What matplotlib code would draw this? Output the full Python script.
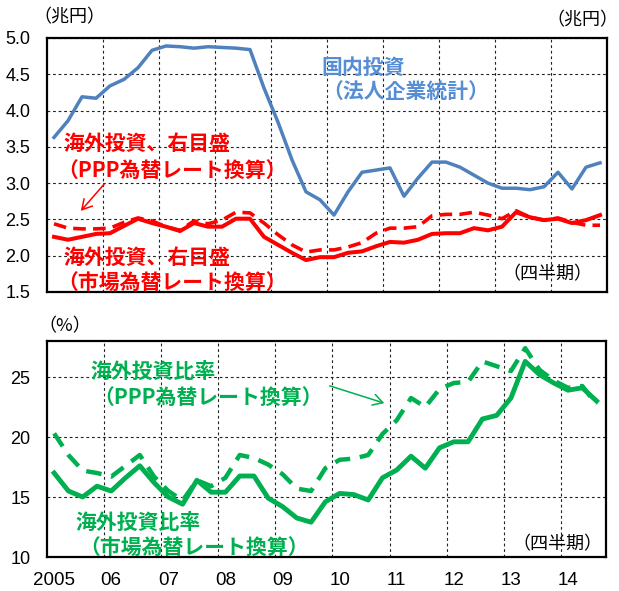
import matplotlib
matplotlib.use('Agg')
import matplotlib.pyplot as plt
import numpy as np

W, H = 619, 591

# ---- data (quarterly, 2005Q1 onward) ----
domestic = [3.63, 3.86, 4.19, 4.17, 4.34, 4.43, 4.59, 4.83, 4.89, 4.88,
            4.86, 4.88, 4.87, 4.86, 4.84, 4.31, 3.84, 3.32, 2.88, 2.77,
            2.56, 2.88, 3.15, 3.18, 3.21, 2.82, 3.07, 3.29, 3.29, 3.22,
            3.11, 3.00, 2.93, 2.93, 2.91, 2.95, 3.15, 2.92, 3.22, 3.28]
overseas_mkt = [2.26, 2.22, 2.26, 2.30, 2.31, 2.41, 2.51, 2.45, 2.40, 2.34,
                2.45, 2.40, 2.40, 2.51, 2.51, 2.26, 2.15, 2.04, 1.94, 1.98,
                1.98, 2.04, 2.06, 2.13, 2.19, 2.18, 2.22, 2.30, 2.31, 2.31,
                2.38, 2.35, 2.40, 2.60, 2.53, 2.49, 2.51, 2.45, 2.49, 2.56]
overseas_ppp = [2.44, 2.38, 2.37, 2.37, 2.38, 2.46, 2.52, 2.48, 2.40, 2.35,
                2.48, 2.44, 2.49, 2.60, 2.59, 2.45, 2.29, 2.15, 2.05, 2.08,
                2.08, 2.12, 2.18, 2.31, 2.38, 2.38, 2.40, 2.55, 2.57, 2.57,
                2.60, 2.56, 2.51, 2.62, 2.53, 2.49, 2.52, 2.46, 2.42, 2.42]
ratio_mkt = [17.0, 15.5, 15.0, 15.9, 15.5, 16.6, 17.6, 16.2, 15.0, 14.4,
             16.4, 15.4, 15.4, 16.75, 16.75, 14.9, 14.2, 13.25, 12.9, 14.6,
             15.3, 15.2, 14.75, 16.6, 17.25, 18.4, 17.4, 19.1, 19.6, 19.6,
             21.5, 21.8, 23.25, 26.3, 25.2, 24.5, 23.9, 24.1, 23.0]
ratio_ppp = [20.3, 18.5, 17.2, 17.0, 16.7, 17.6, 18.5, 16.7, 15.5, 14.7,
             16.4, 15.9, 16.6, 18.5, 18.25, 17.7, 16.9, 15.7, 15.5, 17.4,
             18.1, 18.2, 18.5, 20.25, 21.4, 23.25, 22.5, 24.0, 24.5, 24.6,
             26.3, 25.9, 25.5, 27.4, 25.6, 24.7, 24.1, 24.25, 22.7]
years = list(range(2005, 2015))
year_labels = ['2005', '06', '07', '08', '09', '10', '11', '12', '13', '14']
top_yticks = [1.5, 2.0, 2.5, 3.0, 3.5, 4.0, 4.5, 5.0]
bot_yticks = [10, 15, 20, 25]

plt.rcParams['font.family'] = ['Liberation Sans', 'Noto Sans CJK JP']
JP = ['Noto Sans CJK JP', 'DejaVu Sans']

BLUE = '#4F81BD'
RED = '#FF0000'
GREEN = '#00B050'

fig = plt.figure(figsize=(W / 100, H / 100), dpi=100)


def rect(l, t, r, b):
    return [l / W, 1 - b / H, (r - l) / W, (b - t) / H]


ax1 = fig.add_axes(rect(47, 38, 607, 292))
ax2 = fig.add_axes(rect(47, 341, 606, 557))

x_top = 2005 + np.arange(len(domestic)) / 4
x_bot = 2005 + np.arange(len(ratio_mkt)) / 4
bounds = [y - 0.125 for y in years[1:]]

grid_kw = dict(color='#222222', linestyle=(0, (2.5, 2.5)), linewidth=0.8)

for ax in (ax1, ax2):
    ax.set_xticks(bounds, minor=True)
    ax.grid(True, which='minor', axis='x', **grid_kw)
    ax.grid(True, which='major', axis='y', **grid_kw)
    ax.tick_params(which='both', length=0)
    ax.tick_params(axis='y', labelsize=13, pad=12)
    for s in ax.spines.values():
        s.set_linewidth(1.6)
        s.set_color('black')
    ax.set_axisbelow(True)

# ---- top panel ----
ax1.set_xlim(2004.875, 2014.875)
ax1.set_ylim(1.5, 5.0)
ax1.set_yticks(top_yticks)
ax1.set_yticklabels([f'{v:.1f}' for v in top_yticks])
ax1.set_xticks([])
ax1.plot(x_top, domestic, color=BLUE, lw=2.5, solid_joinstyle='round', zorder=3)

ax1r = ax1.twinx()
ax1r.set_ylim(1.5, 5.0)
ax1r.set_yticks([])
for s in ax1r.spines.values():
    s.set_visible(False)
ax1r.plot(x_top, overseas_ppp, color=RED, lw=2.6, linestyle=(0, (3.5, 2.0)), zorder=3)
ax1r.plot(x_top, overseas_mkt, color=RED, lw=2.9, solid_joinstyle='round', zorder=4)

# ---- bottom panel ----
ax2.set_xlim(2004.875, 2014.665)
ax2.set_ylim(10, 28)
ax2.set_yticks(bot_yticks)
ax2.set_xticks(years)
ax2.set_xticklabels(year_labels)
ax2.tick_params(axis='x', labelsize=13.5, pad=11)
ax2.plot(x_bot, ratio_ppp, color=GREEN, lw=3.2, linestyle=(0, (3.5, 2.2)), zorder=3)
ax2.plot(x_bot, ratio_mkt, color=GREEN, lw=3.5, solid_joinstyle='round', zorder=4)


def T(x, y, s, color='black', size=15, weight='bold', ha='left'):
    fig.text(x / W, 1 - y / H, s, color=color, fontsize=size, fontweight=weight,
             family=JP, ha=ha, va='center')


def arrow(x1, y1, x2, y2, color):
    fig.add_artist(matplotlib.patches.FancyArrowPatch(
        (x1 / W, 1 - y1 / H), (x2 / W, 1 - y2 / H), transform=fig.transFigure,
        arrowstyle='->,head_length=7,head_width=4', color=color, lw=1.1))


# top texts
T(33, 17, '（兆円）', size=13, weight='normal')
T(618, 20, '（兆円）', size=13, weight='normal', ha='right')
T(321, 67, '国内投資', color='#558ED5')
T(322, 92, '（法人企業統計）', color='#558ED5')
T(63, 143, '海外投資、右目盛', color=RED)
T(57, 170, '（PPP為替レート換算）', color=RED)
arrow(106, 182, 79, 213, RED)
T(63, 257, '海外投資、右目盛', color=RED)
T(57, 283, '（市場為替レート換算）', color=RED)
T(592, 274, '（四半期）', size=13, weight='normal', ha='right')

# bottom texts
T(38, 326, '（%）', size=13, weight='normal')
T(90, 371, '海外投資比率', color=GREEN)
T(93, 397, '（PPP為替レート換算）', color=GREEN)
arrow(327, 385, 387, 404, GREEN)
T(75, 522, '海外投資比率', color=GREEN)
T(79, 548, '（市場為替レート換算）', color=GREEN)
T(602, 544, '（四半期）', size=13, weight='normal', ha='right')

fig.savefig('out.png', dpi=100)
